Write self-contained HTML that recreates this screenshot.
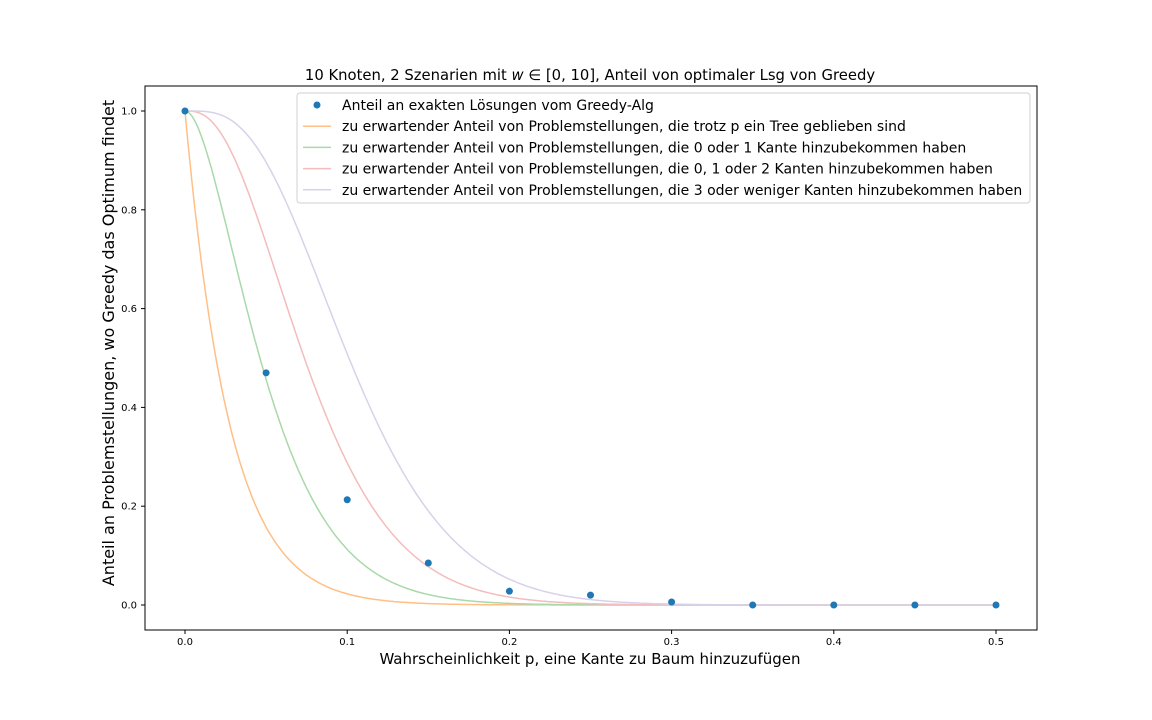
<!DOCTYPE html>
<html><head><meta charset="utf-8"><style>body{margin:0;background:#fff}svg{display:block;font-family:"DejaVu Sans","Liberation Sans",sans-serif}</style></head>
<body>
<svg id="chart" width="1152" height="720" xmlns="http://www.w3.org/2000/svg"></svg>
<script>
const pValues=[0,0.05,0.1,0.15,0.2,0.25,0.3,0.35,0.4,0.45,0.5];
const greedyShare=[1.0,0.47,0.213,0.085,0.028,0.02,0.006,0,0,0,0];
const xTicks=[0,0.1,0.2,0.3,0.4,0.5];
const yTicks=[0,0.2,0.4,0.6,0.8,1.0];
const extraEdgesMax=[0,1,2,3];
const possibleEdges=[36];
const curveColors=['#ffbf86','#a9d9a9','#f4bcbc','#d9d1ea'];
const legendLabels=['Anteil an exakten Lösungen vom Greedy-Alg','zu erwartender Anteil von Problemstellungen, die trotz p ein Tree geblieben sind','zu erwartender Anteil von Problemstellungen, die 0 oder 1 Kante hinzubekommen haben','zu erwartender Anteil von Problemstellungen, die 0, 1 oder 2 Kanten hinzubekommen haben','zu erwartender Anteil von Problemstellungen, die 3 oder weniger Kanten hinzubekommen haben'];

const svg=document.getElementById('chart');const NS='http://www.w3.org/2000/svg';
function el(t,a,txt){const e=document.createElementNS(NS,t);for(const k in a)e.setAttribute(k,a[k]);if(txt!==undefined)e.textContent=txt;svg.appendChild(e);return e;}
const X=v=>185+v*1622, Y=v=>605-v*494;
function binom(n,k){let r=1;for(let i=1;i<=k;i++)r=r*(n-k+i)/i;return r;}
function cdf(p,K){const n=possibleEdges[0];let s=0;for(let k=0;k<=K;k++)s+=binom(n,k)*Math.pow(p,k)*Math.pow(1-p,n-k);return s;}

let f=el('rect',{x:145,y:86,width:892,height:544,fill:'none',stroke:'#000','stroke-width':1});

xTicks.forEach(t=>{let l=el('line',{x1:X(t),x2:X(t),y1:630,y2:634,stroke:'#000'});
let tx=el('text',{x:X(t),y:645,'font-size':10,'text-anchor':'middle'},t.toFixed(1));});
yTicks.forEach(t=>{let l=el('line',{x1:141,x2:145,y1:Y(t),y2:Y(t),stroke:'#000'});
let tx=el('text',{x:137,y:Y(t)+3.5,'font-size':10,'text-anchor':'end'},t.toFixed(1));});
extraEdgesMax.forEach((K,i)=>{let d='';for(let j=0;j<=500;j++){const p=j/1000;d+=(j?'L':'M')+X(p).toFixed(1)+','+Y(cdf(p,K)).toFixed(1);}
let pa=el('path',{d:d,fill:'none',stroke:curveColors[i],'stroke-width':1.5});});
pValues.forEach((p,i)=>{let c=el('circle',{cx:X(p),cy:Y(greedyShare[i]),r:3.5,fill:'#1f77b4'});});
let t=el('text',{x:590,y:80,'font-size':14.8,'text-anchor':'middle'});
t.innerHTML='10 Knoten, 2 Szenarien mit <tspan font-style="italic">w</tspan> ∈ [0, 10], Anteil von optimaler Lsg von Greedy';
let xl=el('text',{x:590,y:664,'font-size':15,'text-anchor':'middle'},'Wahrscheinlichkeit p, eine Kante zu Baum hinzuzufügen');
let yl=el('text',{x:0,y:0,'font-size':16,'text-anchor':'middle',transform:'translate(114,343) rotate(-90)'},'Anteil an Problemstellungen, wo Greedy das Optimum findet');
let lb=el('rect',{x:297,y:93,width:733,height:110,rx:3,fill:'#fff','fill-opacity':0.8,stroke:'#d0d0d0'});
legendLabels.forEach((s,i)=>{const y=105+i*21.2;
if(i==0){let c=el('circle',{cx:317,cy:y,r:3.5,fill:'#1f77b4'});}
else{let l=el('line',{x1:303,x2:331,y1:y,y2:y,stroke:curveColors[i-1],'stroke-width':1.5});}
let tx=el('text',{x:342,y:y+5,'font-size':14},s);});
</script>
</body></html>
